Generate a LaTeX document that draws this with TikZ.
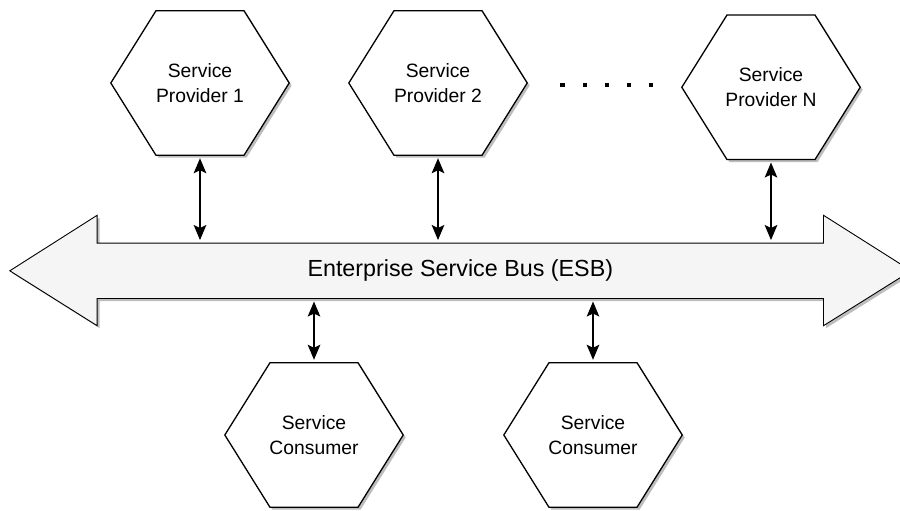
\documentclass[tikz,border=0pt]{standalone}
\usepackage{fontspec}
\setmainfont{Liberation Sans}
\usetikzlibrary{arrows.meta,backgrounds,calc}
\definecolor{busfill}{HTML}{F5F5F5}
\definecolor{shadowc}{HTML}{BDBDBD}
\tikzset{
  hexbox/.style={minimum width=178pt, minimum height=144pt, inner sep=0pt, align=center,
    font=\fontsize{19.3}{24.5}\selectfont},
  hexline/.style={draw=black, line width=1.3pt, fill=white, line join=miter},
  hexshadow/.style={fill=shadowc, transform canvas={shift={(2.5pt,-2.5pt)}}},
  buslabel/.style={minimum width=726pt, minimum height=55pt, inner sep=0pt,
    font=\fontsize{23.3}{28}\selectfont},
  link/.style={line width=2pt, {Stealth[length=15pt,width=12.5pt,inset=3pt]}-{Stealth[length=15pt,width=12.5pt,inset=3pt]},
    shorten <=3pt, shorten >=3pt},
}
\newcommand\hexpath[1]{(#1.west) -- ($(#1.north west)!0.253!(#1.north east)$) -- ($(#1.north west)!0.747!(#1.north east)$) -- (#1.east) -- ($(#1.south west)!0.747!(#1.south east)$) -- ($(#1.south west)!0.253!(#1.south east)$) -- cycle}
\begin{document}
\begin{tikzpicture}[x=1pt, y=-1pt]
\useasboundingbox (0,0) rectangle (900,511);
% nodes
\node[hexbox] (p1) at (200,83) {Service\\Provider 1};
\node[hexbox] (p2) at (438,83) {Service\\Provider 2};
\node[hexbox] (pn) at (771,87.3) {Service\\Provider N};
\node[hexbox] (c1) at (314,435) {Service\\Consumer};
\node[hexbox] (c2) at (593,435) {Service\\Consumer};
\node[buslabel] (bus) at (460.3,270.8) {Enterprise Service Bus (ESB)};
% shapes behind the text
\begin{scope}[on background layer]
  \fill[hexshadow] (bus.west) ++(-87.3,0) -- ($(bus.north west)+(0,-27.8)$) -- (bus.north west) -- (bus.north east) -- ($(bus.north east)+(0,-27.8)$) -- ($(bus.east)+(87.7,0)$) -- ($(bus.south east)+(0,27.2)$) -- (bus.south east) -- (bus.south west) -- ($(bus.south west)+(0,27.2)$) -- cycle;
  \filldraw[fill=busfill, draw=black, line width=0.9pt] (bus.west) ++(-87.3,0) -- ($(bus.north west)+(0,-27.8)$) -- (bus.north west) -- (bus.north east) -- ($(bus.north east)+(0,-27.8)$) -- ($(bus.east)+(87.7,0)$) -- ($(bus.south east)+(0,27.2)$) -- (bus.south east) -- (bus.south west) -- ($(bus.south west)+(0,27.2)$) -- cycle;
  \foreach \n in {p1,p2,pn,c1,c2}{
    \fill[hexshadow] \hexpath{\n};
    \path[hexline] \hexpath{\n};
  }
\end{scope}
% ellipsis dots
\foreach \dx in {0,22.2,44.4,66.6,88.8}
  \fill (560.3+\dx,83.3) rectangle ++(4.2,4.2);
% connectors
\draw[link] (p1.south) -- (p1.south |- bus.north);
\draw[link] (p2.south) -- (p2.south |- bus.north);
\draw[link] (pn.south) -- (pn.south |- bus.north);
\draw[link] (c1.north |- bus.south) -- (c1.north);
\draw[link] (c2.north |- bus.south) -- (c2.north);
\end{tikzpicture}
\end{document}
